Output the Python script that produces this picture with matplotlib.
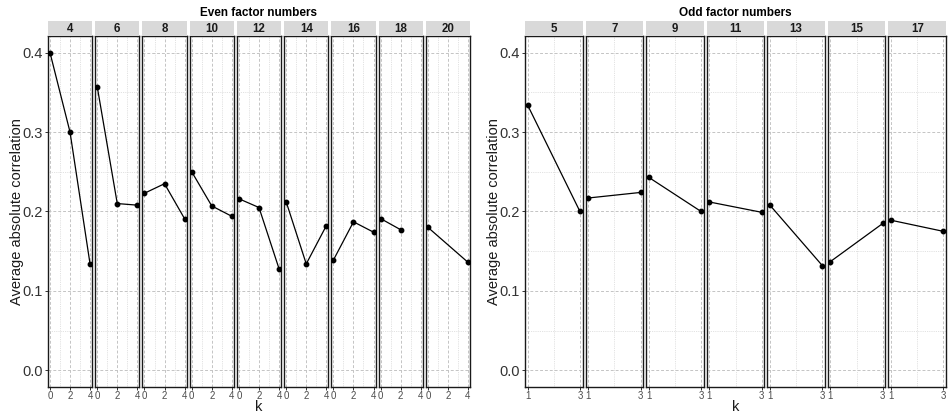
import matplotlib
matplotlib.use("Agg")
import matplotlib.pyplot as plt

plt.rcParams['font.family'] = ['Liberation Sans', 'DejaVu Sans']

# average absolute correlation by k, one panel per factor count
even_factors = [4, 6, 8, 10, 12, 14, 16, 18, 20]
even_k = [[0, 2, 4], [0, 2, 4], [0, 2, 4], [0, 2, 4], [0, 2, 4],
          [0, 2, 4], [0, 2, 4], [0, 2], [0, 4]]
even_corr = [[0.400, 0.300, 0.134],
             [0.357, 0.210, 0.208],
             [0.223, 0.235, 0.191],
             [0.250, 0.207, 0.194],
             [0.216, 0.205, 0.128],
             [0.212, 0.134, 0.182],
             [0.139, 0.187, 0.174],
             [0.191, 0.177],
             [0.180, 0.136]]

odd_factors = [5, 7, 9, 11, 13, 15, 17]
odd_k = [[1, 3]] * 7
odd_corr = [[0.334, 0.200],
            [0.217, 0.224],
            [0.243, 0.200],
            [0.212, 0.199],
            [0.208, 0.132],
            [0.137, 0.185],
            [0.189, 0.175]]

W, H = 950, 417
fig = plt.figure(figsize=(W / 100, H / 100), dpi=100)


def px_axes(x0, y0, w, h):
    return fig.add_axes([x0 / W, 1 - (y0 + h) / H, w / W, h / H])


def draw_group(title, factors, ks, vals, left, width, gap, xlim, xmajor, xminor, ylab_x):
    top, bottom = 36, 387
    n = len(factors)
    fw = (width - gap * (n - 1)) / n
    for i, (f, k, v) in enumerate(zip(factors, ks, vals)):
        x0 = left + i * (fw + gap)
        ax = px_axes(x0, top, fw, bottom - top)
        ax.set_xlim(xlim)
        ax.set_ylim(-0.021, 0.421)
        ax.set_xticks(xmajor)
        ax.set_xticks(xminor, minor=True)
        ax.set_yticks([0.0, 0.1, 0.2, 0.3, 0.4])
        ax.set_yticks([0.05, 0.15, 0.25, 0.35], minor=True)
        ax.set_yticklabels(['0.0', '0.1', '0.2', '0.3', '0.4'])
        ax.grid(which='major', ls=(0, (3, 2)), color='#c4c4c4', lw=0.7)
        ax.grid(which='minor', ls=(0, (1, 1.2)), color='#d8d8d8', lw=0.6)
        ax.set_axisbelow(True)
        ax.plot(k, v, color='black', lw=0.9, marker='o', ms=3.2, zorder=3)
        for s in ax.spines.values():
            s.set_color('#1a1a1a')
            s.set_linewidth(1.0)
        ax.tick_params(which='minor', length=0)
        ax.tick_params(axis='x', length=2, width=0.7, color='#333333',
                       labelsize=7, labelcolor='#4d4d4d', pad=0.8)
        if i == 0:
            ax.tick_params(axis='y', length=2.5, width=0.7, color='#333333',
                           labelsize=10.5, labelcolor='#333333', pad=1.5)
        else:
            ax.tick_params(axis='y', left=False, labelleft=False)

        # facet strip
        sax = px_axes(x0, 21, fw, 15)
        sax.set_facecolor('#d9d9d9')
        sax.set_xticks([])
        sax.set_yticks([])
        for s in sax.spines.values():
            s.set_visible(False)
        sax.text(0.5, 0.5, str(f), ha='center', va='center', fontsize=8.3,
                 fontweight='bold', color='#1a1a1a', transform=sax.transAxes)

    cx = (left + width / 2) / W
    fig.text(cx, 1 - 13 / H, title, ha='center', va='center', fontsize=8.5,
             fontweight='bold')
    fig.text(cx, 1 - 407 / H, 'k', ha='center', va='center', fontsize=10.5,
             color='#1a1a1a')
    fig.text(ylab_x / W, 1 - ((top + bottom) / 2) / H, 'Average absolute correlation',
             rotation=90, ha='center', va='center', fontsize=10.5, color='#1a1a1a')


draw_group('Even factor numbers', even_factors, even_k, even_corr,
           48, 422, 3.2, (-0.2, 4.2), [0, 2, 4], [1, 3], 17)
draw_group('Odd factor numbers', odd_factors, odd_k, odd_corr,
           525, 421, 3.0, (0.9, 3.1), [1, 3], [2], 494)

fig.savefig('out.png', dpi=100, facecolor='white')
